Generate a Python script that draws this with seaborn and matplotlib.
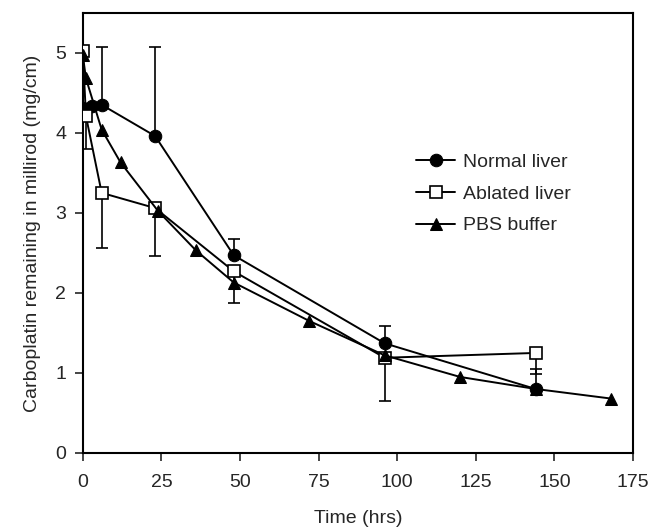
import numpy as np
import matplotlib

matplotlib.use('Agg')
import matplotlib.pyplot as plt
import pandas as pd
import seaborn as sns

# --- data ---
normal_t = [0, 3, 6, 23, 48, 96, 144]
normal_y = [4.31, 4.33, 4.35, 3.96, 2.47, 1.37, 0.80]
normal_err_up = [0.0, 0.0, 0.72, 1.11, 0.20, 0.22, 0.25]

ablated_t = [0, 1, 6, 23, 48, 96, 144]
ablated_y = [5.02, 4.21, 3.25, 3.06, 2.27, 1.19, 1.25]
ablated_err_down = [0.0, 0.41, 0.69, 0.60, 0.40, 0.54, 0.26]

pbs_t = [0, 1, 6, 12, 24, 36, 48, 72, 96, 120, 144, 168]
pbs_y = [4.97, 4.68, 4.04, 3.63, 3.02, 2.53, 2.13, 1.65, 1.22, 0.95, 0.80, 0.68]

x_ticks = [0, 25, 50, 75, 100, 125, 150, 175]
y_ticks = [0, 1, 2, 3, 4, 5]

sns.set_style('ticks')
plt.rcParams['font.family'] = ['Liberation Sans', 'DejaVu Sans']
plt.rcParams['font.size'] = 14

fig, ax = plt.subplots(figsize=(6.52, 5.32), dpi=100)
fig.subplots_adjust(left=0.127, right=0.971, top=0.976, bottom=0.1485)

df_n = pd.DataFrame({'t': normal_t, 'y': normal_y})
df_a = pd.DataFrame({'t': ablated_t, 'y': ablated_y})
df_p = pd.DataFrame({'t': pbs_t, 'y': pbs_y})

# error bars first so markers sit on top
ax.errorbar(normal_t, normal_y, yerr=[np.zeros(len(normal_t)), normal_err_up],
            fmt='none', ecolor='black', elinewidth=1.2, capsize=4.5, capthick=1.2, zorder=1)
ax.errorbar(ablated_t, ablated_y, yerr=[ablated_err_down, np.zeros(len(ablated_t))],
            fmt='none', ecolor='black', elinewidth=1.2, capsize=4.5, capthick=1.2, zorder=1)

sns.lineplot(data=df_n, x='t', y='y', ax=ax, color='black', lw=1.4,
             marker='o', markersize=9, markerfacecolor='black',
             markeredgecolor='black', label='Normal liver', zorder=3)
sns.lineplot(data=df_a, x='t', y='y', ax=ax, color='black', lw=1.4,
             marker='s', markersize=8.5, markerfacecolor='white',
             markeredgecolor='black', markeredgewidth=1.2,
             label='Ablated liver', zorder=3)
sns.lineplot(data=df_p, x='t', y='y', ax=ax, color='black', lw=1.4,
             marker='^', markersize=8, markerfacecolor='black',
             markeredgecolor='black', label='PBS buffer', zorder=3)

ax.set_xlim(0, 175)
ax.set_ylim(0, 5.5)
ax.set_xticks(x_ticks)
ax.set_yticks(y_ticks)
ax.tick_params(direction='out', length=6, width=1.2, labelsize=14)
ax.tick_params(axis='x', pad=9)
ax.tick_params(axis='y', pad=6)

for sp in ax.spines.values():
    sp.set_visible(True)
    sp.set_linewidth(1.5)
    sp.set_color('black')

ax.set_xlabel('Time (hrs)', fontsize=14, labelpad=14)
ax.set_ylabel('Carboplatin remaining in millirod (mg/cm)', fontsize=14, labelpad=10)

ax.legend(loc='upper left', bbox_to_anchor=(0.574, 0.72), frameon=False,
          fontsize=14, handlelength=2.0, labelspacing=0.72, handletextpad=0.4)

fig.savefig('out.png', dpi=100)
